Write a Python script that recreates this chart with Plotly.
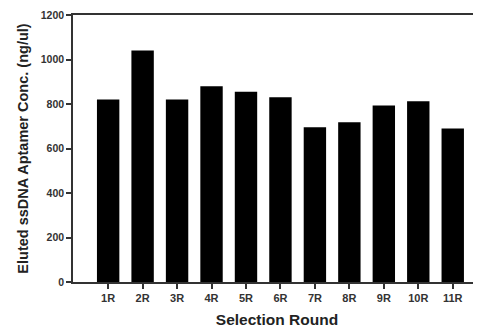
import plotly.graph_objects as go

categories = ["1R", "2R", "3R", "4R", "5R", "6R", "7R", "8R", "9R", "10R", "11R"]
values = [820, 1040, 820, 880, 855, 830, 695, 718, 793, 812, 690]
y_ticks = [0, 200, 400, 600, 800, 1000, 1200]

font_family = "Liberation Sans, Arial, sans-serif"

fig = go.Figure(
    go.Bar(
        x=list(range(len(categories))),
        y=values,
        width=0.65,
        marker=dict(color="black", line=dict(width=0)),
    )
)

# The page body adds an 8px offset, so the figure is 8px smaller than the window.
fig.update_layout(
    width=473,
    height=320,
    margin=dict(l=65, r=0, t=7, b=46, autoexpand=False),
    paper_bgcolor="white",
    plot_bgcolor="white",
    showlegend=False,
    font=dict(family=font_family, color="#222"),
)

fig.update_xaxes(
    range=[-1.02, 10.82],
    tickmode="array",
    tickvals=list(range(len(categories))),
    ticktext=categories,
    ticks="outside",
    ticklen=5,
    tickwidth=1.5,
    tickcolor="#333",
    showline=True,
    linecolor="#333",
    linewidth=1.5,
    mirror=True,
    showgrid=False,
    zeroline=False,
    tickfont=dict(size=11, family=font_family, color="#333", weight="bold"),
    title=dict(text="<b>Selection Round</b>", font=dict(size=15.5, color="#222"), standoff=13),
)

fig.update_yaxes(
    range=[0, 1200],
    tickmode="array",
    tickvals=y_ticks,
    ticks="outside",
    ticklen=5,
    tickwidth=1.5,
    tickcolor="#333",
    showline=True,
    linecolor="#333",
    linewidth=1.5,
    showgrid=False,
    zeroline=False,
    tickfont=dict(size=10.5, family=font_family, color="#333", weight="bold"),
    title=dict(text="<b>Eluted ssDNA Aptamer Conc. (ng/ul)</b>", font=dict(size=14.5, color="#222"), standoff=9),
)

fig.write_html("out.html")
